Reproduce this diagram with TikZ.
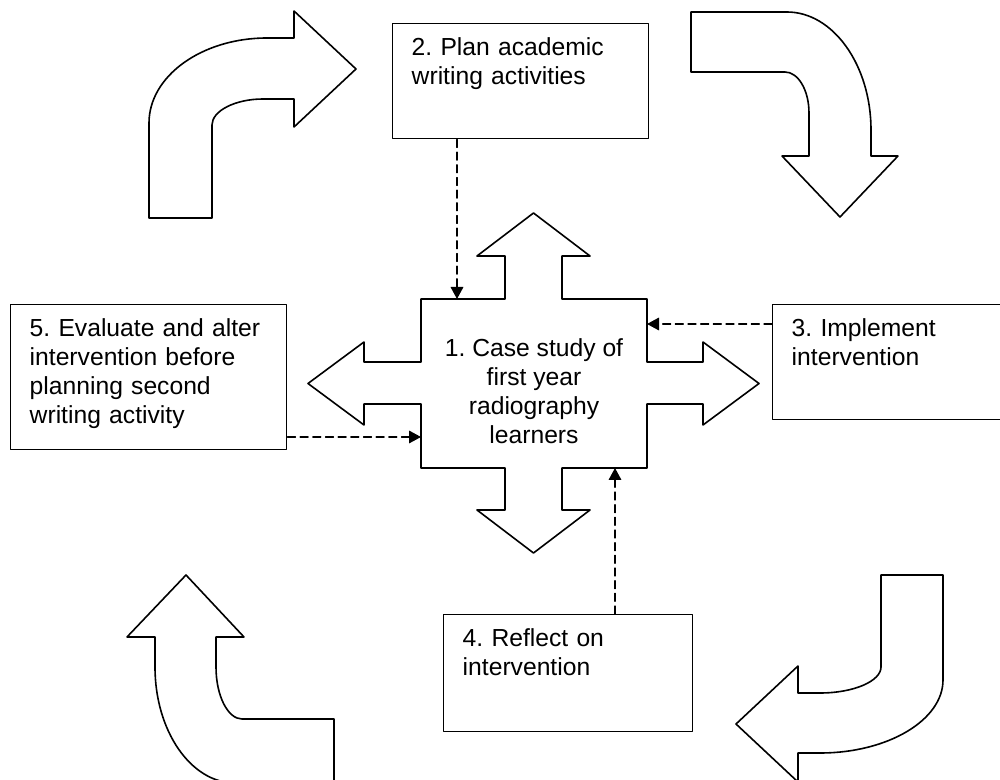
\documentclass[tikz,border=0pt]{standalone}
\usepackage{fontspec}
\setmainfont{Liberation Sans}
\usepackage{tikz}
\usetikzlibrary{arrows.meta}
\frenchspacing

\begin{document}
\begin{tikzpicture}[line cap=round,line join=round,>={Triangle[length=9pt,width=9.5pt]},
	x=0.75pt,y=-0.75pt,font=\fontsize{18.5pt}{21.75pt}\selectfont,
	turnarrow/.style={line width=1.2pt},
	stepbox/.style 2 args={draw,line width=1.1pt,anchor=north west,inner xsep=14.25pt,inner ysep=0pt,
		text width=#1,text height=24pt,text depth=#2,align=left},
	link/.style={->,line width=0.9pt,dash pattern=on 6pt off 3.5pt}]
	\useasboundingbox (0,0) rectangle (1000,780);
	\clip (0,0) rectangle (1000,780);
	% curved arrows round the cycle
	\draw[turnarrow] (149,218) -- (149,123) .. controls (149,76) and (202,38) .. (267,38) -- (294,38) -- (294,11) -- (356,69) -- (294,127) -- (294,99) -- (263,99) .. controls (235,99) and (212,111) .. (212,125) -- (212,218) -- cycle;
	\draw[turnarrow] (691,12) -- (787,12) .. controls (833,12) and (871,65) .. (871,130) -- (871,156) -- (898,156) -- (840,217) -- (782,156) -- (809,156) -- (809,113) .. controls (809,90) and (798,72) .. (785,72) -- (691,72) -- cycle;
	\draw[turnarrow] (881,575) -- (943,575) -- (943,680) .. controls (943,720) and (888,753) .. (820,753) -- (798,753) -- (798,782) -- (736,724) -- (798,666) -- (798,693) -- (820,693) .. controls (854,693) and (881,681) .. (881,667) -- cycle;
	\draw[turnarrow] (186,575) -- (244,637) -- (216,637) -- (216,667) .. controls (216,696) and (228,719) .. (242,719) -- (334,719) -- (334,783) -- (235,783) .. controls (191,783) and (155,731) .. (155,667) -- (155,637) -- (127,637) -- cycle;
	% four-way arrow in the middle
	\draw[turnarrow] (533.5,213) -- (590,256) -- (562,256) -- (562,299) -- (647,299) -- (647,362) -- (703,362) -- (703,342) -- (759,383.5) -- (703,425) -- (703,404) -- (647,404) -- (647,468) -- (562,468) -- (562,510) -- (590,510) -- (533.5,553) -- (477,510) -- (505,510) -- (505,468) -- (421,468) -- (421,404) -- (364,404) -- (364,425) -- (308,383.5) -- (364,342) -- (364,362) -- (421,362) -- (421,299) -- (505,299) -- (505,256) -- (477,256) -- cycle;
	\node[align=center] (case) at (534,391) {1. Case study of\\first year\\radiography\\learners};
	\coordinate (caseTop) at (457,299);
	\coordinate (caseRight) at (647,324);
	\coordinate (caseLeft) at (421,437);
	\coordinate (caseBottom) at (615,468);
	% the steps
	\node[stepbox={163.5pt}{62.25pt}] (plan) at (392,23) {2. Plan academic\\writing activities};
	\node[stepbox={151.5pt}{62.25pt}] (implement) at (772,304) {3. Implement\\intervention};
	\node[stepbox={158.25pt}{63.75pt}] (reflect) at (443,614) {4. Reflect on\\intervention};
	\node[stepbox={178.5pt}{84.75pt}] (evaluate) at (10,304) {5. Evaluate and alter\\intervention before\\planning second\\writing activity};
	% dashed links to the case
	\draw[link] (plan.south -| caseTop) -- (caseTop);
	\draw[link] (implement.west |- caseRight) -- (caseRight);
	\draw[link] (reflect.north -| caseBottom) -- (caseBottom);
	\draw[link] (evaluate.east |- caseLeft) -- (caseLeft);
\end{tikzpicture}
\end{document}
